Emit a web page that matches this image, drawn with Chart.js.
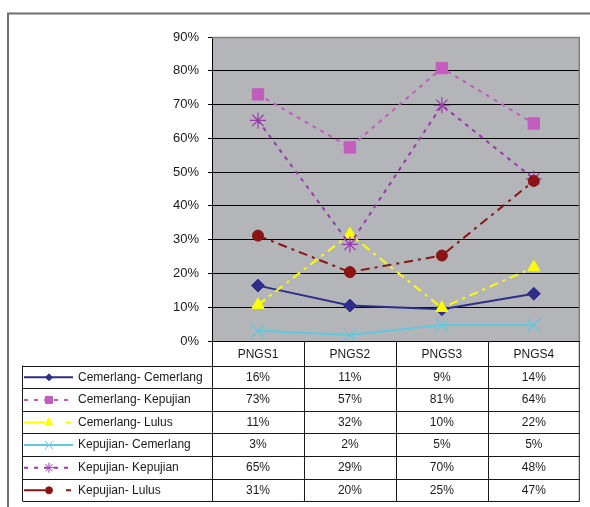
<!DOCTYPE html>
<html>
<head>
<meta charset="utf-8">
<script src="https://cdn.jsdelivr.net/npm/chart.js@4.4.1/dist/chart.umd.min.js"></script>
<style>
  html, body { margin: 0; padding: 0; background: #fff; }
  #wrap { width: 590px; height: 507px; }
</style>
</head>
<body>
<div id="wrap"><canvas id="c" width="590" height="507"></canvas></div>
<script>
// data (table shows the rounded values)
const categories = ["PNGS1", "PNGS2", "PNGS3", "PNGS4"];
const yTickValues = [0, 10, 20, 30, 40, 50, 60, 70, 80, 90];

const seriesNames = [
  "Cemerlang- Cemerlang",
  "Cemerlang- Kepujian",
  "Cemerlang- Lulus",
  "Kepujian- Cemerlang",
  "Kepujian- Kepujian",
  "Kepujian- Lulus",
];
const cemerlangCemerlang = [16.4, 10.5, 9.4, 14.0];
const cemerlangKepujian  = [73.0, 57.3, 80.8, 64.4];
const cemerlangLulus     = [10.7, 31.6, 9.8, 21.8];
const kepujianCemerlang  = [3.0, 1.8, 4.7, 4.7];
const kepujianKepujian   = [65.3, 28.6, 69.8, 48.0];
const kepujianLulus      = [31.2, 20.4, 25.3, 47.4];

const FONT = "'Liberation Sans', Arial, sans-serif";
const PLOT_BG = "#b4b5b8";

// styles per series, Excel 2003 look (keyDash = dash of the sample in the table)
const styles = [
  { color: "#2e2e8a", dash: [],           keyDash: [],               point: "rectRot",  r: 6.5, legendR: 3.5 },
  { color: "#c25cbd", dash: [4, 5],       keyDash: [4, 6],           point: "rect",     r: 8,   legendR: 5 },
  { color: "#ffff00", dash: [9, 5, 3, 5], keyDash: [21, 21, 5, 10],  point: "triangle", r: 7,   legendR: 4.5 },
  { color: "#5fcbe0", dash: [],           keyDash: [],               point: "crossRot", r: 9,   legendR: 6 },
  { color: "#9a3aab", dash: [4, 5],       keyDash: [4, 6],           point: "star",     r: 8,   legendR: 5 },
  { color: "#8b1515", dash: [9, 5, 3, 5], keyDash: [21, 21, 5, 10],  point: "circle",   r: 5.5, legendR: 3.5 },
];
const seriesValues = [cemerlangCemerlang, cemerlangKepujian, cemerlangLulus,
                      kepujianCemerlang, kepujianKepujian, kepujianLulus];

const datasets = seriesValues.map((vals, i) => {
  const s = styles[i];
  const hollow = s.point === "crossRot" || s.point === "star";
  return {
    label: seriesNames[i],
    data: vals,
    borderColor: s.color,
    backgroundColor: s.color,
    borderWidth: 2,
    borderDash: s.dash,
    pointStyle: s.point,
    pointRadius: s.r,
    pointBorderWidth: hollow ? 1.2 : 1,
    pointBackgroundColor: s.color,
    pointBorderColor: s.color,
    tension: 0,
    order: seriesValues.length - i,
  };
});

// frame, grey plot area and the data table under it
const excelLook = {
  id: "excelLook",
  beforeDraw(chart) {
    const { ctx, chartArea: a } = chart;
    ctx.save();
    ctx.fillStyle = "#fff";
    ctx.fillRect(0, 0, chart.width, chart.height);
    // outer chart frame
    ctx.strokeStyle = "#6f6f6f";
    ctx.lineWidth = 2;
    ctx.beginPath();
    ctx.moveTo(8, chart.height);
    ctx.lineTo(8, 13.5);
    ctx.lineTo(chart.width, 13.5);
    ctx.stroke();
    ctx.fillStyle = PLOT_BG;
    ctx.fillRect(a.left, a.top, a.right - a.left, a.bottom - a.top);
    ctx.restore();
  },
  afterDatasetsDraw(chart) {
    const { ctx, chartArea: a } = chart;
    ctx.save();
    ctx.strokeStyle = "#808080";
    ctx.lineWidth = 1.5;
    ctx.beginPath();
    ctx.moveTo(a.left, a.top + 0.5);
    ctx.lineTo(a.right - 0.5, a.top + 0.5);
    ctx.lineTo(a.right - 0.5, a.bottom);
    ctx.stroke();
    ctx.restore();
  },
  afterDraw(chart) {
    const { ctx, chartArea: a } = chart;
    const x = chart.scales.x;
    const colW = x.getPixelForValue(1) - x.getPixelForValue(0);
    const headerH = 24.5;
    const rowH = 22.6;
    const tableLeft = 22.5;
    const top = a.bottom;
    const rowsTop = top + headerH;
    const bottom = rowsTop + rowH * seriesNames.length;

    ctx.save();
    ctx.strokeStyle = "#1a1a1a";
    ctx.lineWidth = 1;
    ctx.beginPath();
    // vertical lines
    for (let i = 0; i <= categories.length; i++) {
      const px = Math.round(x.getPixelForValue(i) - colW / 2) + 0.5;
      ctx.moveTo(Math.min(px, a.right - 0.5), top);
      ctx.lineTo(Math.min(px, a.right - 0.5), bottom);
    }
    ctx.moveTo(tableLeft, rowsTop);
    ctx.lineTo(tableLeft, bottom);
    // horizontal lines
    for (let r = 0; r <= seriesNames.length; r++) {
      const py = Math.round(rowsTop + r * rowH) + 0.5;
      ctx.moveTo(tableLeft, py);
      ctx.lineTo(a.right, py);
    }
    ctx.stroke();

    ctx.font = "12px " + FONT;
    ctx.textBaseline = "middle";
    seriesNames.forEach((name, r) => {
      const cy = rowsTop + r * rowH + rowH / 2 + 0.5;
      const s = styles[r];
      // legend key
      ctx.strokeStyle = s.color;
      ctx.fillStyle = s.color;
      ctx.lineWidth = 2;
      ctx.setLineDash(s.keyDash);
      ctx.beginPath();
      ctx.moveTo(24, cy);
      ctx.lineTo(73, cy);
      ctx.stroke();
      ctx.setLineDash([]);
      ctx.lineWidth = 1;
      if (Chart.helpers && Chart.helpers.drawPoint) {
        Chart.helpers.drawPoint(ctx, { pointStyle: s.point, rotation: 0, radius: s.legendR, borderWidth: 1 }, 49, cy);
      }
      ctx.fillStyle = "#1a1a1a";
      ctx.textAlign = "left";
      ctx.fillText(name, 78, cy);
      ctx.textAlign = "center";
      seriesValues[r].forEach((v, i) => {
        ctx.fillText(Math.round(v) + "%", x.getPixelForValue(i), cy);
      });
    });
    ctx.restore();
  },
};

Chart.defaults.font.family = FONT;
Chart.defaults.font.size = 12;
Chart.defaults.color = "#1a1a1a";

new Chart(document.getElementById("c"), {
  type: "line",
  data: { labels: categories, datasets },
  options: {
    responsive: false,
    animation: false,
    devicePixelRatio: 1,
    layout: { padding: { left: 0, top: 37, right: 3, bottom: 142 } },
    plugins: { legend: { display: false }, tooltip: { enabled: false } },
    scales: {
      x: {
        offset: true,
        grid: { display: false, drawTicks: false },
        border: { display: true, color: "#000", width: 1 },
        ticks: { padding: 6, color: "#1a1a1a", font: { size: 12 }, maxRotation: 0 },
        afterFit(scale) { scale.height = 24; scale.paddingLeft = 0; scale.paddingRight = 0; },
      },
      y: {
        min: 0,
        max: 90,
        afterBuildTicks(scale) { scale.ticks = yTickValues.map(v => ({ value: v })); },
        ticks: { padding: 9, color: "#1a1a1a", font: { size: 13 }, callback: v => v + "%" },
        grid: { color: "#000", lineWidth: 1, tickLength: 4, drawTicks: true },
        border: { display: true, color: "#000", width: 1 },
        afterFit(scale) { scale.width = 212; },
      },
    },
  },
  plugins: [excelLook],
});
</script>
</body>
</html>
